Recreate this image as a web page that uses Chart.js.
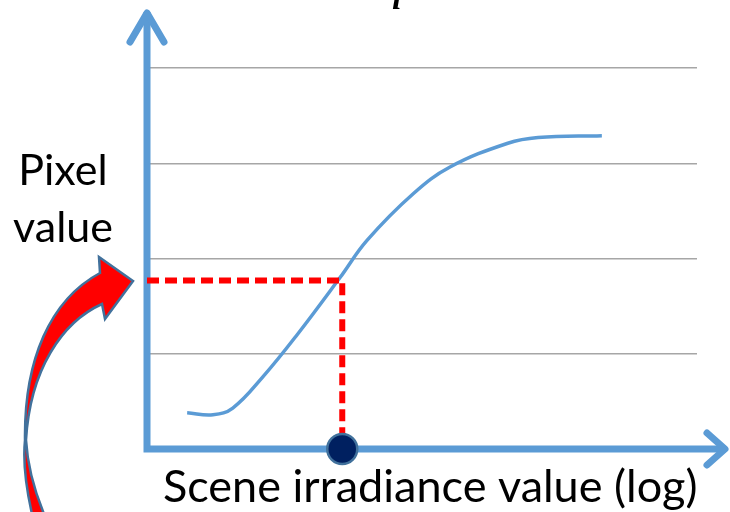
<!DOCTYPE html>
<html>
<head>
<meta charset="utf-8">
<script src="https://cdn.jsdelivr.net/npm/chart.js@4"></script>
<style>
  html, body { margin: 0; padding: 0; background: #fff; }
  #wrap { width: 730px; height: 512px; }
</style>
</head>
<body>
<div id="wrap"><canvas id="curveChart"></canvas></div>
<script>
// response curve: log irradiance -> pixel value
const irradiance = [0.73, 1.2, 1.56, 2.11, 2.73, 3.51, 4.0, 4.84, 5.51, 6.56, 7.11, 8.27];
const pixelValue = [0.38, 0.36, 0.43, 0.76, 1.2, 1.8, 2.19, 2.68, 2.96, 3.21, 3.27, 3.29];
// the sampled point read back from the curve
const sampleX = 3.55;
const sampleY = 1.77;
const gridTicks = [1, 2, 3, 4];

const axisBlue = "#5b9bd5";
const textFont = "Lato, 'Open Sans', sans-serif";

const curvePoints = irradiance.map((x, i) => ({ x: x, y: pixelValue[i] }));

// blue axes with open arrow heads, red arrow and labels
const axesPlugin = {
  id: "axes",
  beforeDatasetsDraw(chart) {
    const ctx = chart.ctx;
    const x0 = chart.scales.x.getPixelForValue(0);
    const y0 = chart.scales.y.getPixelForValue(0);
    ctx.save();
    ctx.strokeStyle = axisBlue;
    ctx.lineWidth = 7;
    ctx.lineCap = "butt";
    ctx.beginPath();
    ctx.moveTo(x0, y0 + 3.5);
    ctx.lineTo(x0, 12);
    ctx.moveTo(x0 - 3.5, y0);
    ctx.lineTo(726, y0);
    ctx.stroke();
    ctx.lineCap = "round";
    ctx.lineJoin = "round";
    ctx.beginPath();
    ctx.moveTo(x0 - 17, 42);
    ctx.lineTo(x0, 13);
    ctx.lineTo(x0 + 17, 42);
    ctx.moveTo(707, y0 - 16);
    ctx.lineTo(725, y0);
    ctx.lineTo(707, y0 + 16);
    ctx.stroke();
    ctx.restore();
  },
  afterDraw(chart) {
    const ctx = chart.ctx;
    ctx.save();

    // twisted red arrow pointing at the pixel value
    ctx.beginPath();
    ctx.moveTo(32, 514);
    ctx.quadraticCurveTo(22, 470, 25, 440);
    ctx.bezierCurveTo(24, 360, 50, 300, 100, 273);
    ctx.lineTo(99, 257);
    ctx.lineTo(133, 281);
    ctx.lineTo(105, 319);
    ctx.lineTo(102, 304);
    ctx.bezierCurveTo(62, 322, 30, 370, 26, 440);
    ctx.quadraticCurveTo(28, 475, 44, 514);
    ctx.closePath();
    ctx.fillStyle = "#ff0000";
    ctx.fill();
    ctx.strokeStyle = "#41719c";
    ctx.lineWidth = 2.5;
    ctx.lineJoin = "miter";
    ctx.stroke();

    ctx.fillStyle = "#000";
    ctx.font = "43px " + textFont;
    ctx.textAlign = "center";
    ctx.textBaseline = "alphabetic";
    ctx.fillText("Pixel", 63, 185);
    ctx.fillText("value", 63, 242);
    ctx.font = "45px " + textFont;
    ctx.textAlign = "left";
    ctx.fillText("Scene irradiance value (log)", 163, 502);

    ctx.font = "italic bold 34px 'Liberation Serif', serif";
    ctx.fillText("i", 392, 9);
    ctx.restore();
  }
};

new Chart(document.getElementById("curveChart"), {
  type: "line",
  data: {
    datasets: [
      {
        data: curvePoints,
        borderColor: axisBlue,
        borderWidth: 3.5,
        tension: 0.4,
        pointRadius: 0,
        fill: false,
        order: 3
      },
      {
        data: [
          { x: 0, y: sampleY },
          { x: sampleX, y: sampleY },
          { x: sampleX, y: 0 }
        ],
        borderColor: "#ff0000",
        borderWidth: 6,
        borderDash: [12, 6],
        tension: 0,
        pointRadius: 0,
        fill: false,
        clip: false,
        order: 2
      },
      {
        data: [{ x: sampleX, y: 0 }],
        showLine: false,
        pointRadius: 15,
        pointBackgroundColor: "#002060",
        pointBorderColor: "#41719c",
        pointBorderWidth: 2.5,
        clip: false,
        order: 1
      }
    ]
  },
  options: {
    responsive: true,
    maintainAspectRatio: false,
    animation: false,
    layout: { padding: { left: 147, right: 33, top: 68, bottom: 63 } },
    plugins: { legend: { display: false }, tooltip: { enabled: false } },
    scales: {
      x: {
        type: "linear",
        min: 0,
        max: 10,
        display: false
      },
      y: {
        min: 0,
        max: 4,
        afterBuildTicks(scale) {
          scale.ticks = gridTicks.map(v => ({ value: v }));
        },
        ticks: { display: false },
        border: { display: false },
        grid: { color: "#a6a6a6", lineWidth: 1.5, drawTicks: false }
      }
    }
  },
  plugins: [axesPlugin]
});
</script>
</body>
</html>
